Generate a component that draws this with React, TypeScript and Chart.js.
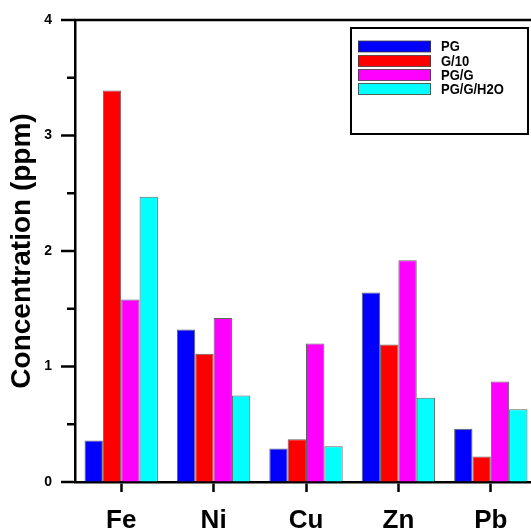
import React, { useEffect, useRef } from "react";
import { Chart, registerables } from "chart.js";

Chart.register(...registerables);

const categories = ["Fe", "Ni", "Cu", "Zn", "Pb"];
const seriesLabels = ["PG", "G/10", "PG/G", "PG/G/H2O"];
const pgValues = [0.36, 1.32, 0.29, 1.64, 0.46];
const g10Values = [3.39, 1.11, 0.37, 1.19, 0.22];
const pggValues = [1.58, 1.42, 1.2, 1.92, 0.87];
const pggh2oValues = [2.47, 0.75, 0.31, 0.73, 0.63];
const seriesColors = ["#0000FF", "#FF0000", "#FF00FF", "#00FFFF"];
const yTickValues = [0, 1, 2, 3, 4];

const FONT = "'Liberation Sans', Arial, sans-serif";

const framePlugin = {
  id: "framePlugin",
  afterDraw(chart: any) {
    const { ctx, chartArea, scales } = chart;
    const y = scales.y;
    ctx.save();
    ctx.strokeStyle = "#000";
    ctx.lineWidth = 2.5;
    // top line
    ctx.beginPath();
    ctx.moveTo(chartArea.left - 1, chartArea.top);
    ctx.lineTo(chartArea.right + 5, chartArea.top);
    ctx.stroke();
    // y ticks major/minor
    for (let v = 0; v <= 4.001; v += 0.5) {
      const py = y.getPixelForValue(v);
      const major = Math.abs(v - Math.round(v)) < 1e-6;
      const len = major ? 14 : 8;
      ctx.beginPath();
      ctx.moveTo(chartArea.left - len, py);
      ctx.lineTo(chartArea.left, py);
      ctx.stroke();
    }
    // legend
    const bx = 351, by = 28, bw = 177, bh = 106;
    ctx.lineWidth = 2;
    ctx.fillStyle = "#fff";
    ctx.fillRect(bx, by, bw, bh);
    ctx.strokeRect(bx, by, bw, bh);
    const rows = [46.5, 61, 75, 89];
    chart.data.datasets.forEach((ds: any, i: number) => {
      const cy = rows[i];
      ctx.fillStyle = ds.backgroundColor;
      ctx.fillRect(358, cy - 5.5, 73, 11);
      ctx.lineWidth = 1;
      ctx.strokeStyle = "rgba(60,60,60,0.8)";
      ctx.strokeRect(358.5, cy - 5.5, 72, 11);
      ctx.save();
      ctx.translate(441, cy + 0.5);
      ctx.scale(1, 1.18);
      ctx.fillStyle = "#000";
      ctx.font = `bold 13px ${FONT}`;
      ctx.textBaseline = "middle";
      ctx.textAlign = "left";
      ctx.fillText(ds.label, 0, 0);
      ctx.restore();
    });
    ctx.restore();
  },
};

export default function App() {
  const ref = useRef<HTMLCanvasElement | null>(null);
  useEffect(() => {
    if (!ref.current) return;
    const valueSets = [pgValues, g10Values, pggValues, pggh2oValues];
    const chart = new Chart(ref.current, {
      type: "bar",
      data: {
        labels: categories,
        datasets: seriesLabels.map((label, i) => ({
          label,
          data: valueSets[i],
          backgroundColor: seriesColors[i],
          borderColor: "rgba(60,60,60,0.8)",
          borderWidth: 1,
          categoryPercentage: 0.794,
          barPercentage: 1,
        })),
      },
      options: {
        responsive: false,
        animation: false,
        devicePixelRatio: 1,
        layout: { padding: { top: 20, left: 0, right: 0, bottom: 0 } },
        plugins: { legend: { display: false }, tooltip: { enabled: false } },
        scales: {
          x: {
            afterFit: (s: any) => {
              s.height = 49;
              s.paddingLeft = 0;
              s.paddingRight = 0;
            },
            grid: {
              offset: false,
              drawOnChartArea: false,
              drawTicks: true,
              tickLength: 10,
              tickWidth: 2.5,
              tickColor: "#000",
            },
            border: { display: true, color: "#000", width: 2.5 },
            ticks: {
              color: "#000",
              font: { family: FONT, size: 26, weight: "bold" },
              padding: 13,
              maxRotation: 0,
            },
          },
          y: {
            min: 0,
            max: 4,
            afterFit: (s: any) => {
              s.width = 75;
              s.paddingTop = 0;
              s.paddingBottom = 0;
            },
            afterBuildTicks: (s: any) => {
              const t: any[] = [];
              for (let v = 0; v <= 4.001; v += 0.5) t.push({ value: v });
              s.ticks = t;
            },
            grid: { display: true, drawOnChartArea: false, drawTicks: false },
            border: { display: true, color: "#000", width: 2.5 },
            ticks: {
              color: "#000",
              font: { family: FONT, size: 14, weight: "bold" },
              padding: 23,
              callback: (v: any) =>
                yTickValues.includes(Number(v)) ? String(v) : "",
            },
            title: {
              display: true,
              text: "Concentration (ppm)",
              color: "#000",
              font: { family: FONT, size: 28, weight: "bold" },
              padding: { top: 5, bottom: 0 },
            },
          },
        },
      },
      plugins: [framePlugin],
    });
    return () => chart.destroy();
  }, []);
  return (
    <div
      style={{
        position: "fixed",
        left: 0,
        top: 0,
        width: 531,
        height: 531,
        overflow: "hidden",
        background: "#fff",
      }}
    >
      <canvas ref={ref} width={537} height={531} style={{ display: "block" }} />
    </div>
  );
}
